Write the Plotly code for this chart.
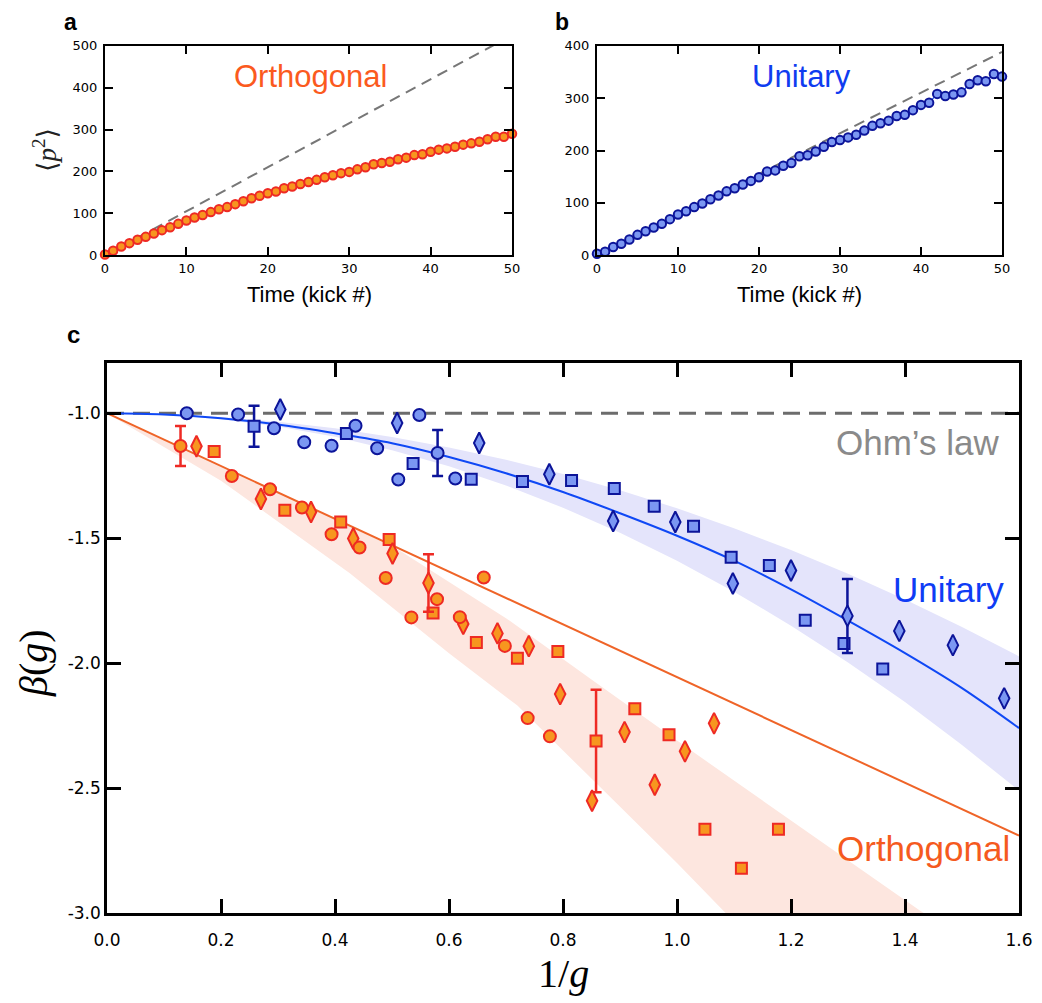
import plotly.graph_objects as go

W, H = 1042, 1003
OFF = 8  # page body margin in the browser

# ---------------- Panel a / b data ----------------
kick_t = list(range(0, 51))
ortho_p2 = [2, 11, 21, 29, 37, 44, 52, 60, 67, 75,
            83, 90, 96, 103, 110, 115, 122, 129, 136, 142,
            148, 152, 160, 164, 170, 175, 180, 186, 191, 196,
            199, 205, 210, 217, 220, 223, 229, 233, 239, 241,
            247, 252, 255, 259, 264, 267, 271, 277, 283, 283,
            290]
unit_p2 = [3, 7, 16, 22, 30, 39, 46, 53, 60, 69,
           78, 84, 92, 99, 107, 114, 122, 128, 135, 142,
           149, 160, 162, 171, 176, 189, 191, 198, 207, 216,
           220, 225, 230, 238, 247, 252, 257, 266, 268, 277,
           287, 291, 308, 304, 307, 311, 327, 334, 332, 346,
           341]
diff_a_t = [0, 50]
diff_a_y = [0, 525]
diff_b_t = [0, 50]
diff_b_y = [0, 388]

# ---------------- Panel c data ----------------
uc_x = [0.140, 0.230, 0.293, 0.346, 0.394, 0.436, 0.474, 0.511, 0.548, 0.580, 0.611]
uc_y = [-1.000, -1.005, -1.060, -1.116, -1.130, -1.050, -1.140, -1.265, -1.007, -1.159, -1.261]
uc_err = [0, 0, 0, 0, 0, 0, 0, 0, 0, 0.092, 0]

us_x = [0.258, 0.420, 0.537, 0.639, 0.729, 0.815, 0.890, 0.960, 1.029, 1.095, 1.162, 1.225, 1.293, 1.361]
us_y = [-1.052, -1.081, -1.201, -1.264, -1.273, -1.269, -1.301, -1.372, -1.452, -1.576, -1.609, -1.828, -1.921, -2.023]
us_err = [0.082, 0, 0, 0, 0, 0, 0, 0, 0, 0, 0, 0, 0, 0]

ud_x = [0.304, 0.509, 0.653, 0.776, 0.888, 0.997, 1.098, 1.200, 1.299, 1.390, 1.484, 1.574]
ud_y = [-0.985, -1.039, -1.119, -1.244, -1.431, -1.435, -1.681, -1.629, -1.811, -1.871, -1.928, -2.141]
ud_err = [0, 0, 0, 0, 0, 0, 0, 0, 0.148, 0, 0, 0]

oc_x = [0.129, 0.219, 0.286, 0.342, 0.394, 0.443, 0.489, 0.534, 0.579, 0.619, 0.661, 0.698, 0.738, 0.777]
oc_y = [-1.131, -1.251, -1.304, -1.377, -1.484, -1.537, -1.659, -1.817, -1.744, -1.816, -1.657, -1.931, -2.220, -2.293]
oc_err = [0.080, 0, 0, 0, 0, 0, 0, 0, 0, 0, 0, 0, 0, 0]

os_x = [0.188, 0.312, 0.410, 0.495, 0.572, 0.648, 0.720, 0.791, 0.858, 0.926, 0.986, 1.049, 1.113, 1.178]
os_y = [-1.153, -1.388, -1.435, -1.505, -1.799, -1.917, -1.980, -1.953, -2.312, -2.183, -2.287, -2.665, -2.821, -2.665]
os_err = [0, 0, 0, 0, 0, 0, 0, 0, 0.205, 0, 0, 0, 0, 0]

od_x = [0.157, 0.270, 0.358, 0.432, 0.501, 0.564, 0.625, 0.685, 0.740, 0.795, 0.851, 0.908, 0.961, 1.014, 1.065]
od_y = [-1.132, -1.343, -1.395, -1.501, -1.561, -1.679, -1.843, -1.881, -1.932, -2.124, -2.551, -2.276, -2.487, -2.353, -2.241]
od_err = [0, 0, 0, 0, 0, 0.115, 0, 0, 0, 0, 0, 0, 0, 0, 0]

ufit_x = [0.0, 0.1, 0.2, 0.3, 0.4, 0.5, 0.6, 0.7, 0.8, 0.9, 1.0, 1.1, 1.2, 1.3, 1.4, 1.5, 1.6]
ufit_y = [-1.000, -1.005, -1.020, -1.045, -1.080, -1.120, -1.175, -1.240, -1.315, -1.400,
          -1.490, -1.590, -1.705, -1.830, -1.960, -2.100, -2.260]
uband_hi = [-1.000, -1.004, -1.015, -1.034, -1.060, -1.095, -1.137, -1.186, -1.243, -1.308,
            -1.380, -1.460, -1.547, -1.642, -1.745, -1.855, -1.973]
uband_lo = [-1.000, -1.006, -1.024, -1.053, -1.094, -1.148, -1.212, -1.289, -1.378, -1.478,
            -1.590, -1.714, -1.850, -1.997, -2.156, -2.328, -2.510]

ofit_x = [0.0, 1.6]
ofit_y = [-1.00, -2.69]
oband_hi_x = [0.0, 0.2, 0.4, 0.514, 0.7, 0.853, 1.0, 1.2, 1.426, 1.5]
oband_hi_y = [-1.00, -1.21, -1.42, -1.55, -1.82, -2.07, -2.31, -2.63, -2.99, -3.10]
oband_lo_x = [0.0, 0.2, 0.426, 0.6, 0.72, 0.858, 1.0, 1.081, 1.15]
oband_lo_y = [-1.00, -1.27, -1.64, -1.96, -2.17, -2.48, -2.80, -2.99, -3.15]

ohm_x = [0.0, 1.6]
ohm_y = [-1.0, -1.0]

c_xticks = [0.0, 0.2, 0.4, 0.6, 0.8, 1.0, 1.2, 1.4, 1.6]
c_yticks = [-3.0, -2.5, -2.0, -1.5, -1.0]

# ---------------- colours ----------------
ORA_FILL = "#f7961f"
ORA_EDGE = "#ee2a24"
BLU_FILL = "#7b97f2"
BLU_EDGE = "#0c1499"
BLUE_LINE = "#0f48f5"
ORANGE_LINE = "#ef6428"
GRAY_DASH = "#6c6c6c"

TICKFONT = "DejaVu Sans"
SANS = "Liberation Sans, Arial"
SERIF = "Liberation Serif, DejaVu Serif, serif"

fig = go.Figure()

# ---------------- Panel a ----------------
fig.add_trace(go.Scatter(x=diff_a_t, y=diff_a_y, mode="lines", xaxis="x", yaxis="y",
                         line=dict(color="#777777", width=2, dash="11px,7px"), showlegend=False))
fig.add_trace(go.Scatter(x=kick_t, y=ortho_p2, mode="lines+markers", xaxis="x", yaxis="y",
                         line=dict(color=ORA_EDGE, width=1.2),
                         marker=dict(size=8.5, color=ORA_FILL, line=dict(color=ORA_EDGE, width=2)),
                         cliponaxis=False, showlegend=False))

# ---------------- Panel b ----------------
fig.add_trace(go.Scatter(x=diff_b_t, y=diff_b_y, mode="lines", xaxis="x2", yaxis="y2",
                         line=dict(color="#777777", width=2, dash="11px,7px"), showlegend=False))
fig.add_trace(go.Scatter(x=kick_t, y=unit_p2, mode="lines+markers", xaxis="x2", yaxis="y2",
                         line=dict(color=BLUE_LINE, width=1.2),
                         marker=dict(size=8.5, color=BLU_FILL, line=dict(color=BLU_EDGE, width=2)),
                         cliponaxis=False, showlegend=False))

# ---------------- Panel c ----------------
fig.add_trace(go.Scatter(x=ufit_x + ufit_x[::-1], y=uband_hi + uband_lo[::-1],
                         mode="lines", fill="toself", fillcolor="#e4e4fb",
                         line=dict(width=0, color="rgba(0,0,0,0)"),
                         xaxis="x3", yaxis="y3", showlegend=False, hoverinfo="skip"))
fig.add_trace(go.Scatter(x=oband_hi_x + oband_lo_x[::-1], y=oband_hi_y + oband_lo_y[::-1],
                         mode="lines", fill="toself", fillcolor="#fde6df",
                         line=dict(width=0, color="rgba(0,0,0,0)"),
                         xaxis="x3", yaxis="y3", showlegend=False, hoverinfo="skip"))
fig.add_trace(go.Scatter(x=ohm_x, y=ohm_y, mode="lines", xaxis="x3", yaxis="y3",
                         line=dict(color=GRAY_DASH, width=3, dash="17px,9px"), showlegend=False))
fig.add_trace(go.Scatter(x=ufit_x, y=ufit_y, mode="lines", xaxis="x3", yaxis="y3",
                         line=dict(color=BLUE_LINE, width=2, shape="spline"), showlegend=False))
fig.add_trace(go.Scatter(x=ofit_x, y=ofit_y, mode="lines", xaxis="x3", yaxis="y3",
                         line=dict(color=ORANGE_LINE, width=2), showlegend=False))


def add_series(xs, ys, errs, symbol, size, fill, edge):
    ex = [x for x, e in zip(xs, errs) if e > 0]
    ey = [y for y, e in zip(ys, errs) if e > 0]
    ee = [e for e in errs if e > 0]
    if ex:
        fig.add_trace(go.Scatter(x=ex, y=ey, mode="markers", xaxis="x3", yaxis="y3",
                                 marker=dict(size=2, opacity=0),
                                 error_y=dict(type="data", array=ee, visible=True,
                                              color=edge, thickness=2.5, width=5.5),
                                 showlegend=False))
    fig.add_trace(go.Scatter(x=xs, y=ys, mode="markers", xaxis="x3", yaxis="y3",
                             marker=dict(symbol=symbol, size=size, color=fill,
                                         line=dict(color=edge, width=2)),
                             showlegend=False))


add_series(os_x, os_y, os_err, "square", 11, ORA_FILL, ORA_EDGE)
add_series(od_x, od_y, od_err, "diamond-tall", 15, ORA_FILL, ORA_EDGE)
add_series(oc_x, oc_y, oc_err, "circle", 12, ORA_FILL, ORA_EDGE)
add_series(us_x, us_y, us_err, "square", 11, BLU_FILL, BLU_EDGE)
add_series(ud_x, ud_y, ud_err, "diamond-tall", 15, BLU_FILL, BLU_EDGE)
add_series(uc_x, uc_y, uc_err, "circle", 12, BLU_FILL, BLU_EDGE)


def px(x):
    return (x - OFF) / W


def py(y):
    return 1 - (y - OFF) / H


axis_common = dict(showline=True, linecolor="black", mirror="ticks", ticks="inside",
                   tickcolor="black", showgrid=False, zeroline=False, automargin=False)

fig.update_layout(
    template="plotly_white",
    width=W, height=H,
    margin=dict(l=0, r=0, t=0, b=0, pad=0, autoexpand=False),
    paper_bgcolor="white", plot_bgcolor="white",
    showlegend=False,
    xaxis=dict(domain=[px(105), px(512)], range=[0, 50], tickvals=[0, 10, 20, 30, 40, 50],
               linewidth=2, ticklen=8, tickwidth=2, anchor="y",
               tickfont=dict(family=TICKFONT, size=13, color="black"), **axis_common),
    yaxis=dict(domain=[py(255.3), py(45.7)], range=[0, 500], tickvals=[0, 100, 200, 300, 400, 500],
               linewidth=2, ticklen=8, tickwidth=2, anchor="x", ticklabelstandoff=3,
               tickfont=dict(family=TICKFONT, size=13, color="black"), **axis_common),
    xaxis2=dict(domain=[px(597), px(1002)], range=[0, 50], tickvals=[0, 10, 20, 30, 40, 50],
                linewidth=2, ticklen=8, tickwidth=2, anchor="y2",
                tickfont=dict(family=TICKFONT, size=13, color="black"), **axis_common),
    yaxis2=dict(domain=[py(255.3), py(45.7)], range=[0, 400], tickvals=[0, 100, 200, 300, 400],
                linewidth=2, ticklen=8, tickwidth=2, anchor="x2", ticklabelstandoff=3,
                tickfont=dict(family=TICKFONT, size=13, color="black"), **axis_common),
    xaxis3=dict(domain=[px(107), px(1019)], range=[0, 1.6], tickvals=c_xticks,
                ticktext=["%.1f" % v for v in c_xticks],
                linewidth=2.5, ticklen=14, tickwidth=2.5, anchor="y3", ticklabelstandoff=10,
                tickfont=dict(family=TICKFONT, size=17, color="black"), **axis_common),
    yaxis3=dict(domain=[py(913), py(363.3)], range=[-3.0, -0.8], tickvals=c_yticks,
                ticktext=["%.1f" % v for v in c_yticks],
                linewidth=2.5, ticklen=14, tickwidth=2.5, anchor="x3",
                tickfont=dict(family=TICKFONT, size=17, color="black"), **axis_common),
)

ann = [
    dict(text="<b>a</b>", x=px(70), y=py(22), font=dict(family=SANS, size=23, color="black")),
    dict(text="<b>b</b>", x=px(562), y=py(22), font=dict(family=SANS, size=23, color="black")),
    dict(text="<b>c</b>", x=px(73), y=py(334), font=dict(family=SANS, size=24, color="black")),
    dict(text="Orthogonal", x=px(310), y=py(76), font=dict(family=SANS, size=31, color="#fb5a1e")),
    dict(text="Unitary", x=px(801), y=py(76), font=dict(family=SANS, size=31, color="#0f3cf0")),
    dict(text="Time (kick #)", x=px(309), y=py(294), font=dict(family=SANS, size=22, color="black")),
    dict(text="Time (kick #)", x=px(799), y=py(294), font=dict(family=SANS, size=22, color="black")),
    dict(text="\u27e8<i>p</i><sup>2</sup>\u27e9", x=px(45), y=py(150), textangle=-90,
         font=dict(family=SERIF, size=27, color="#222222")),
    dict(text="Ohm\u2019s law", x=px(1001), y=py(442), xanchor="right",
         font=dict(family=SANS, size=35, color="#8a8a8a")),
    dict(text="Unitary", x=px(1006), y=py(589), xanchor="right",
         font=dict(family=SANS, size=35, color="#0f3cf5")),
    dict(text="Orthogonal", x=px(1012), y=py(848), xanchor="right",
         font=dict(family=SANS, size=35, color="#f55a1e")),
    dict(text="<i>\u03b2</i>(<i>g</i>)", x=px(33), y=py(663), textangle=-90,
         font=dict(family=SERIF, size=40, color="black")),
    dict(text="1/<i>g</i>", x=px(563), y=py(973),
         font=dict(family=SERIF, size=40, color="black")),
]
for a in ann:
    a.setdefault("xanchor", "center")
    a.update(xref="paper", yref="paper", showarrow=False, yanchor="middle")
fig.update_layout(annotations=ann)

fig.write_html("out.html")
